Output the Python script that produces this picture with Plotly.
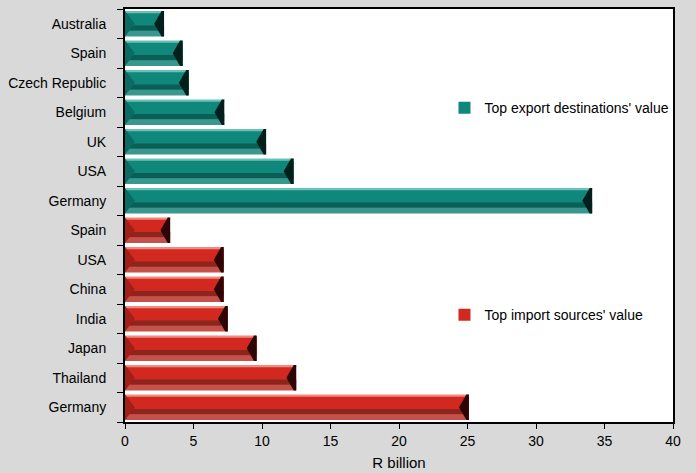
import plotly.graph_objects as go

# ---- data ----
export_countries = ["Australia", "Spain", "Czech Republic", "Belgium", "UK", "USA", "Germany"]
export_values = [2.85, 4.2, 4.65, 7.25, 10.3, 12.3, 34.1]
import_countries = ["Spain", "USA", "China", "India", "Japan", "Thailand", "Germany"]
import_values = [3.3, 7.2, 7.2, 7.5, 9.6, 12.5, 25.1]
x_ticks = [0, 5, 10, 15, 20, 25, 30, 35, 40]

labels = export_countries + import_countries
pos_export = list(range(len(export_countries)))
pos_import = list(range(len(export_countries), len(labels)))

FONT = "Liberation Sans, Arial, sans-serif"
FS = 14
TEAL = dict(main="#0f877b", top="#6cc1b7", dark="#0b5e56", bottom="#3a978d", end="#021f1c", left="#0b6a61")
RED = dict(main="#d3281f", top="#ee8a80", dark="#8a261e", bottom="#c4524a", end="#2c0504", left="#a21f18")
HALF = 0.43
D = 0.72  # bevel depth in x units

fig = go.Figure()
fig.add_trace(go.Bar(
    x=export_values, y=pos_export, orientation="h", width=2 * HALF,
    marker=dict(color=TEAL["main"], line=dict(width=0)),
    name="Top export destinations' value", legend="legend",
))
fig.add_trace(go.Bar(
    x=import_values, y=pos_import, orientation="h", width=2 * HALF,
    marker=dict(color=RED["main"], line=dict(width=0)),
    name="Top import sources' value", legend="legend2",
))

shapes = []
def bevel(v, p, c):
    t, b = p - HALF, p + HALF
    shapes.append(dict(type="rect", xref="x", yref="y", x0=0, x1=v, y0=t, y1=t + 0.07,
                       fillcolor=c["top"], line=dict(width=0), layer="above"))
    shapes.append(dict(type="rect", xref="x", yref="y", x0=0, x1=v, y0=p + 0.06, y1=p + 0.24,
                       fillcolor=c["dark"], line=dict(width=0), layer="above"))
    shapes.append(dict(type="rect", xref="x", yref="y", x0=0, x1=v, y0=p + 0.24, y1=b,
                       fillcolor=c["bottom"], line=dict(width=0), layer="above"))
    shapes.append(dict(type="path", xref="x", yref="y",
                       path=f"M 0,{t} L {D},{p} L 0,{b} Z",
                       fillcolor=c["left"], line=dict(width=0), layer="above"))
    shapes.append(dict(type="path", xref="x", yref="y",
                       path=f"M {v},{t} L {v - D * 0.25},{t} L {v - D},{p} L {v - D * 0.25},{b} L {v},{b} Z",
                       fillcolor=c["end"], line=dict(width=0), layer="above"))

for v, p in zip(export_values, pos_export):
    bevel(v, p, TEAL)
for v, p in zip(import_values, pos_import):
    bevel(v, p, RED)

fig.update_layout(
    width=696, height=473,
    margin=dict(l=125, r=23, t=9, b=51, autoexpand=False),
    paper_bgcolor="#d9d9d9", plot_bgcolor="#ffffff",
    font=dict(family=FONT, size=FS, color="#000000"),
    barmode="overlay",
    bargap=0,
    shapes=shapes,
    showlegend=True,
    legend=dict(x=0.583, y=0.76, xanchor="left", yanchor="middle",
                bgcolor="rgba(0,0,0,0)", font=dict(family=FONT, size=FS),
                itemwidth=30, tracegroupgap=0),
    legend2=dict(x=0.583, y=0.259, xanchor="left", yanchor="middle",
                 bgcolor="rgba(0,0,0,0)", font=dict(family=FONT, size=FS),
                 itemwidth=30, tracegroupgap=0),
)
fig.update_xaxes(
    range=[0, 40], tickvals=x_ticks, ticks="outside", ticklen=5, tickwidth=1,
    tickcolor="#000", showline=True, linecolor="#000", linewidth=2, mirror=True,
    showgrid=False, zeroline=False, automargin=False,
    title=dict(text="R billion", standoff=10, font=dict(size=15)),
    tickfont=dict(size=FS),
)
fig.update_yaxes(
    range=[len(labels) - 0.5, -0.5], tickvals=list(range(len(labels))), ticktext=labels,
    ticks="", showline=True, linecolor="#000", linewidth=2, mirror=True,
    showgrid=False, zeroline=False, ticklabelstandoff=14, automargin=False,
    minor=dict(tickmode="linear", tick0=-0.5, dtick=1, ticks="outside", ticklen=6,
               tickcolor="#000", tickwidth=1, showgrid=False),
    tickfont=dict(size=FS),
)

fig.write_html(
    "out.html",
    config={"displayModeBar": False},
    post_script="document.body.style.margin='0';document.body.style.background='#d9d9d9';",
)
